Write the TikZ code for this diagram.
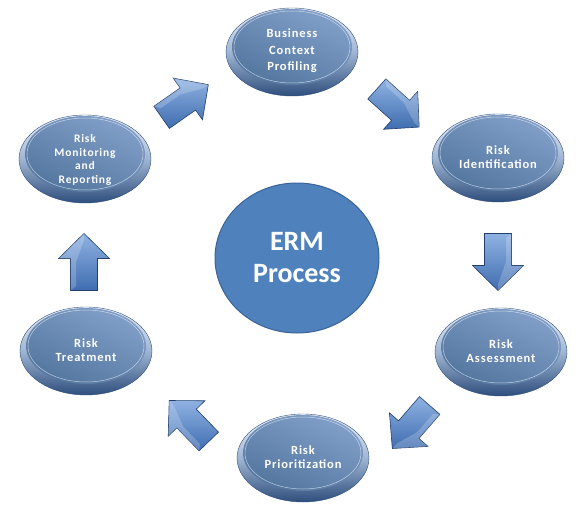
\documentclass[tikz,border=0pt]{standalone}
\usepackage{fontspec}
\setmainfont{Carlito}
\usetikzlibrary{shapes.geometric}
\definecolor{faceTop}{HTML}{819FC9}
\definecolor{faceBot}{HTML}{53769F}
\definecolor{edgeTop}{HTML}{F0F4FA}
\definecolor{edgeMid}{HTML}{9FB5D3}
\definecolor{edgeBot}{HTML}{2E4E7C}
\definecolor{ermFill}{HTML}{4F81BD}
\definecolor{ermLine}{HTML}{3A6496}
\definecolor{arrTop}{HTML}{8FB2E2}
\definecolor{arrBot}{HTML}{3F6DB0}
\definecolor{arrLine}{HTML}{22406E}
\tikzset{
  discface/.style={top color=faceTop, bottom color=faceBot, shading angle=-25},
  disctext/.style={inner sep=0pt, text=white,
    font=\fontsize{12.5}{14}\selectfont\bfseries\addfontfeature{LetterSpace=7}, align=center},
  discedge/.style={top color=edgeTop, bottom color=edgeBot, middle color=edgeMid, draw=edgeBot, line width=0.4pt},
  discrim/.style={draw=white, opacity=0.6, line width=0.5pt},
  blockarrow/.style={top color=arrTop, bottom color=arrBot, draw=arrLine, line width=0.6pt, line join=miter},
  ermnode/.style={ellipse, minimum width=164pt, minimum height=150pt, inner sep=0pt,
    fill=ermFill, draw=ermLine, line width=1pt, text=white,
    font=\fontsize{28}{32}\selectfont\bfseries, align=center},
}
\newcommand\ermdisc[5]{%
  \path[discedge] (#2,-#3-1) ellipse (66pt and 44pt);
  \path[discface] (#2,-#3+4) ellipse (60pt and 38pt);
  \draw[discrim] (#2,-#3+4) ellipse (58pt and 36pt);
  \node[disctext, #5] (#1) at (#2,-#3) {#4};
}
\newcommand\ermarrow[4]{%
  \begin{scope}[shift={(#2,-#3)}, rotate=#4]
    \coordinate (#1) at (0,0);
    \path[blockarrow] (-28.5,-13.5) -- (3.5,-13.5) -- (3.5,-25.5) -- (28.5,0)
      -- (3.5,25.5) -- (3.5,13.5) -- (-28.5,13.5) -- cycle;
    \path[fill=white, opacity=0.2] (-28.5,13.5) -- (3.5,13.5) -- (3.5,25.5) -- (28.5,0)
      -- (22,0) -- (0,8) -- (-24,8) -- cycle;
  \end{scope}
}
\begin{document}
\begin{tikzpicture}[x=1pt, y=1pt]
  \useasboundingbox (0,0) rectangle (578,-516);
  \ermdisc{bcp}{292}{51}{Business\\Context\\Profiling}{font=\fontsize{12.5}{16.5}\selectfont\bfseries\addfontfeature{LetterSpace=7}}
  \ermdisc{rid}{498}{157}{Risk\\Identification}{}
  \ermdisc{ras}{501}{351}{Risk\\Assessment}{}
  \ermdisc{rpr}{303}{457}{Risk\\Prioritization}{}
  \ermdisc{rtr}{86}{350}{Risk\\Treatment}{}
  \ermdisc{rmr}{85}{158}{Risk\\Monitoring\\and\\Reporting}{yshift=-2pt, font=\fontsize{11.5}{13.5}\selectfont\bfseries\addfontfeature{LetterSpace=7}}
  \node[ermnode] (erm) at (297,-258) {ERM\\Process};
  \ermarrow{a1}{185}{101}{35}
  \ermarrow{a2}{398}{108}{-42}
  \ermarrow{a3}{498}{262}{-90}
  \ermarrow{a4}{411}{427}{-131}
  \ermarrow{a5}{189}{421}{134}
  \ermarrow{a6}{84}{262}{90}
\end{tikzpicture}
\end{document}
